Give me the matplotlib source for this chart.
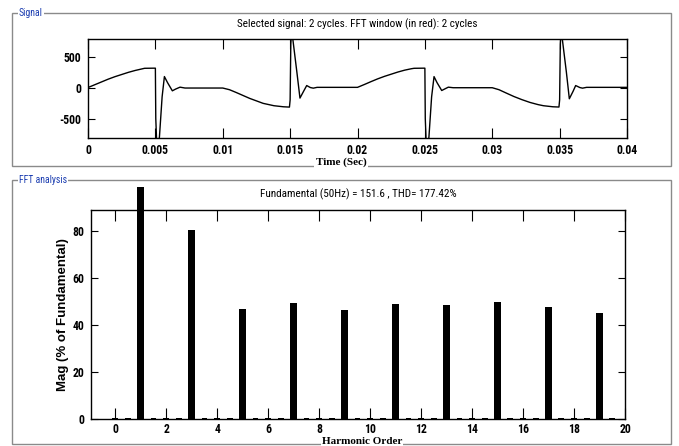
import matplotlib
matplotlib.use("Agg")
import matplotlib.pyplot as plt
from matplotlib.patches import Rectangle
from matplotlib import font_manager

plt.rcParams["axes.unicode_minus"] = False

# signal waveform (time in s, value), two cycles
sig_t = [0.0, 0.0005, 0.001, 0.0015, 0.002, 0.0025, 0.003, 0.0035, 0.004, 0.0042, 0.0049, 0.005,
         0.00503, 0.0051, 0.00518, 0.0053, 0.0055, 0.00567, 0.0059, 0.00626, 0.0065, 0.00683, 0.0072, 0.01,
         0.0105, 0.011, 0.012, 0.013, 0.0138, 0.0145, 0.01495,
         0.015, 0.01505, 0.01512, 0.0152, 0.0155, 0.01573, 0.016, 0.01623, 0.0165, 0.01672, 0.017, 0.02,
         0.0205, 0.021, 0.0215, 0.022, 0.0225, 0.023, 0.0235, 0.024, 0.0242, 0.0249, 0.025,
         0.02503, 0.0251, 0.02518, 0.0253, 0.0255, 0.02568, 0.0259, 0.02625, 0.0265, 0.02674, 0.0271, 0.03,
         0.0305, 0.031, 0.0316, 0.0322, 0.0328, 0.0334, 0.0338, 0.0345, 0.03495,
         0.035, 0.03505, 0.03512, 0.0352, 0.0355, 0.03572, 0.036, 0.03619, 0.0365, 0.0367, 0.037, 0.04]
sig_v = [0, 45, 90, 135, 175, 210, 245, 275, 300, 310, 312, 312,
         -500, -900, -980, -800, -150, 177, 80, -53, -25, 6, -8, -8,
         -35, -80, -175, -255, -293, -310, -315,
         -200, 700, 950, 780, 250, -170, -60, 32, 0, -10, 3, 3,
         48, 95, 140, 180, 215, 250, 280, 303, 310, 312, 312,
         -500, -900, -980, -800, -150, 176, 80, -48, -20, 6, -3, -3,
         -35, -85, -144, -195, -240, -275, -293, -310, -314,
         -200, 700, 950, 780, 250, -181, -60, 32, 0, -10, 3, 3]

sig_xticks = [0, 0.005, 0.01, 0.015, 0.02, 0.025, 0.03, 0.035, 0.04]
sig_xlabels = ["0", "0.005", "0.01", "0.015", "0.02", "0.025", "0.03", "0.035", "0.04"]
sig_yticks = [-500, 0, 500]

# harmonic spectrum (% of fundamental)
harm_order = [1, 3, 5, 7, 9, 11, 13, 15, 17, 19]
harm_mag = [98.7, 80.2, 46.9, 49.2, 46.1, 48.8, 48.4, 49.6, 47.5, 45.2]
small_order = [0, 0.5, 1.5, 2, 2.5, 3.5, 4, 4.5, 5.5, 6, 6.5, 7.5, 8, 8.5, 9.5, 10, 10.5,
               11.5, 12, 12.5, 13.5, 14, 14.5, 15.5, 16, 16.5, 17.5, 18, 18.5, 19.5]
small_mag = [0.5] * len(small_order)

top_title = "Selected signal: 2 cycles. FFT window (in red): 2 cycles"
bot_title = "Fundamental (50Hz) = 151.6 , THD= 177.42%"

W, H = 679, 446
installed = {f.name for f in font_manager.fontManager.ttflist}
cond = "Roboto Condensed" in installed
narrow = ["Roboto Condensed" if cond else "Liberation Sans", "DejaVu Sans"]
nsize = 8.5 if cond else 7.5
serif = ["Liberation Serif", "DejaVu Serif"]

fig = plt.figure(figsize=(W / 100, H / 100), dpi=100)
fig.patch.set_facecolor("white")

def px(x, y):
    return x / W, 1 - y / H

# group frames
for (x0, y0, x1, y1) in [(12, 13, 671, 166), (12, 180, 671, 444)]:
    fig.add_artist(Rectangle(px(x0, y1), (x1 - x0) / W, (y1 - y0) / H, transform=fig.transFigure,
                             fill=False, edgecolor="#8a8a8a", linewidth=1.0))
fig.text(*px(19, 13), "Signal", color="#1a3cb0", fontsize=7, family=narrow, va="center", ha="left",
         bbox=dict(facecolor="white", edgecolor="none", pad=0.5))
fig.text(*px(19, 180), "FFT analysis", color="#1a3cb0", fontsize=7, family=narrow, va="center", ha="left",
         bbox=dict(facecolor="white", edgecolor="none", pad=0.5))

def style(ax, xlen, ylen, xpad):
    ax.tick_params(direction="in", top=True, right=True, labelsize=nsize, pad=5)
    ax.tick_params(axis="x", length=xlen, pad=xpad)
    ax.tick_params(axis="y", length=ylen)
    for s in ax.spines.values():
        s.set_linewidth(1.0)
    for lab in ax.get_xticklabels() + ax.get_yticklabels():
        lab.set_family(narrow)
        lab.set_fontweight("bold")

# signal panel
ax1 = fig.add_axes([88 / W, 1 - 137.5 / H, 539 / W, 98.5 / H])
ax1.plot(sig_t, sig_v, color="black", linewidth=1.0)
ax1.set_xlim(0, 0.04)
ax1.set_ylim(-805, 782)
ax1.set_xticks(sig_xticks)
ax1.set_xticklabels(sig_xlabels)
ax1.set_yticks(sig_yticks)
style(ax1, 7, 5, 5)
fig.text(*px(357, 24), top_title, fontsize=8, family=narrow, ha="center", va="center")
fig.text(*px(341, 162), "Time (Sec)", fontsize=8, family=serif, fontweight="bold", ha="center", va="center",
         bbox=dict(facecolor="white", edgecolor="none", pad=1.5))

# FFT panel
ax2 = fig.add_axes([91 / W, 1 - 419 / H, 534 / W, 209 / H])
ax2.bar(small_order, small_mag, width=0.22, color="black")
bars = ax2.bar(harm_order, harm_mag, width=0.26, color="black")
for b in bars:
    b.set_clip_on(False)
ax2.set_xlim(-0.95, 20)
ax2.set_ylim(0, 88.8)
ax2.set_xticks(range(0, 21, 2))
ax2.set_yticks(range(0, 81, 20))
style(ax2, 8, 5, 3)
ax2.set_ylabel("Mag (% of Fundamental)", fontsize=9.5, fontweight="bold", family=["Liberation Sans", "DejaVu Sans"],
               labelpad=2)
fig.text(*px(358, 194), bot_title, fontsize=8, family=narrow, ha="center", va="center")
fig.text(*px(362, 442), "Harmonic Order", fontsize=8, family=serif, fontweight="bold", ha="center", va="center",
         bbox=dict(facecolor="white", edgecolor="none", pad=0.5))

fig.savefig("out.png", dpi=100, facecolor="white")
